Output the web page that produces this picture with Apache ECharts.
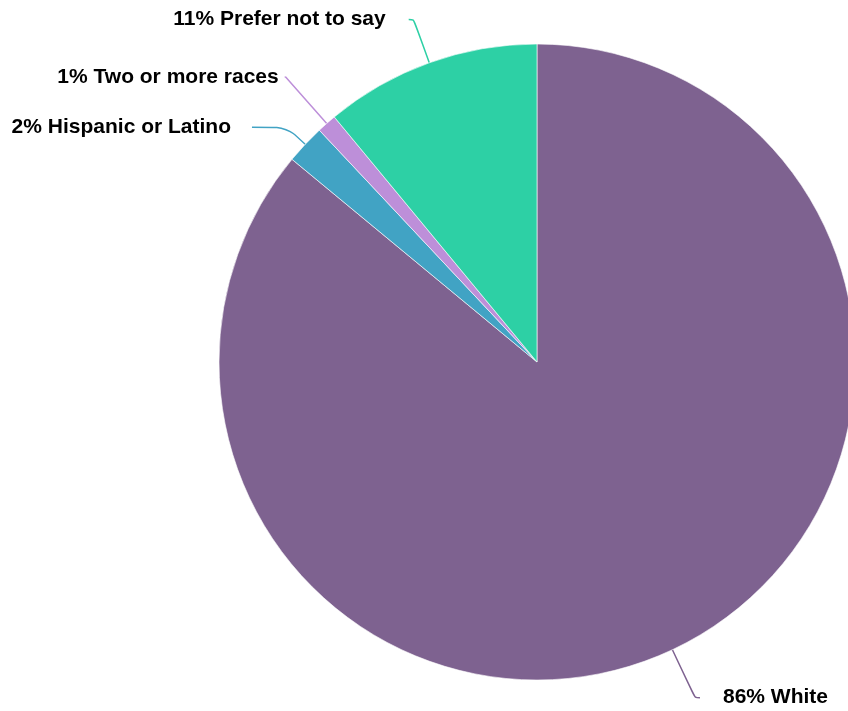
<!DOCTYPE html>
<html><head><meta charset="utf-8">
<script src="https://cdn.jsdelivr.net/npm/echarts@6/dist/echarts.min.js"></script>
<style>html,body{margin:0;padding:0;background:#fff}#c{width:848px;height:711px}</style>
</head><body><div id="c"></div>
<script>
const categories = ['White', 'Hispanic or Latino', 'Two or more races', 'Prefer not to say'];
const values = [86, 2, 1, 11];
const colors = ['#7e6290', '#41a3c4', '#bd8fd9', '#2dd0a5'];
const lineLen = [53, 25, 62, 46];
const lineLen2 = [5, 35, 1, 5];
const labelGap = [23, 21, 6, 23];

const chart = echarts.init(document.getElementById('c'), null, {renderer: 'canvas'});
chart.setOption({
  animation: false,
  series: [{
    type: 'pie',
    center: [537, 362],
    radius: 318,
    startAngle: 90,
    clockwise: true,
    avoidLabelOverlap: true,
    itemStyle: {borderColor: '#ffffff', borderWidth: 0.6},
    label: {
      show: true,
      formatter: p => p.value + '% ' + p.name,
      fontFamily: '"Liberation Sans", Arial, Helvetica, sans-serif',
      fontWeight: 'bold',
      fontSize: 21,
      color: '#000'
    },
    labelLine: {show: true, smooth: 0.3, lineStyle: {width: 1.5}},
    emphasis: {disabled: true},
    data: categories.map((n, i) => ({
      name: n, value: values[i],
      itemStyle: {color: colors[i]},
      label: {distanceToLabelLine: labelGap[i]},
      labelLine: {length: lineLen[i], length2: lineLen2[i], lineStyle: {color: colors[i]}}
    }))
  }]
});
</script></body></html>
